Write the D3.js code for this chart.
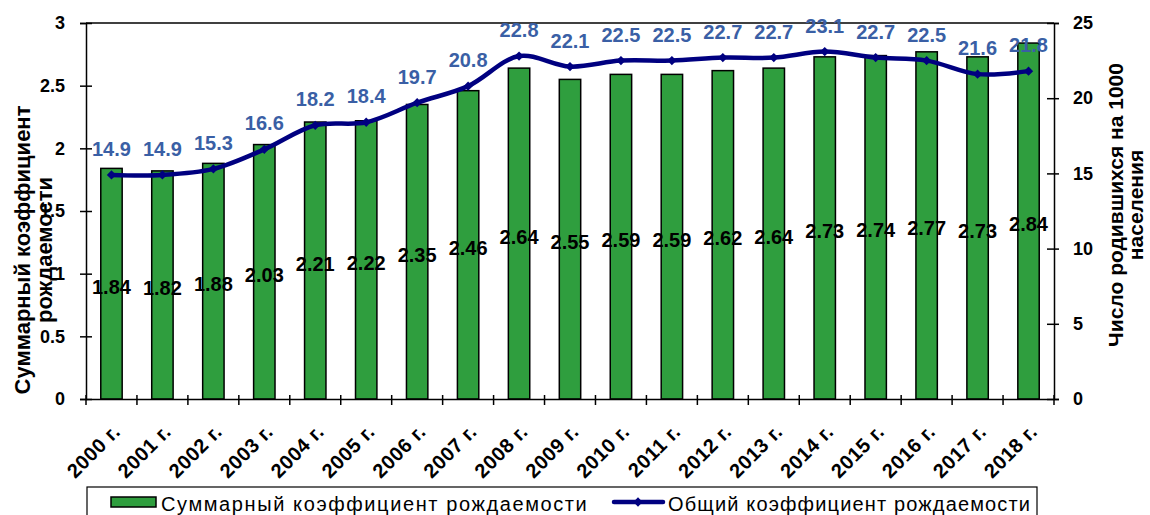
<!DOCTYPE html>
<html>
<head>
<meta charset="utf-8">
<script src="https://cdn.jsdelivr.net/npm/d3@7"></script>
<style>
  body { margin: 0; background: #fff; }
  svg { font-family: "Liberation Sans", Arial, sans-serif; }
</style>
</head>
<body>
<div id="vis"></div>
<script>
const years = ["2000 г.", "2001 г.", "2002 г.", "2003 г.", "2004 г.", "2005 г.", "2006 г.", "2007 г.", "2008 г.", "2009 г.",
    "2010 г.", "2011 г.", "2012 г.", "2013 г.", "2014 г.", "2015 г.", "2016 г.", "2017 г.", "2018 г."];
// суммарный коэффициент рождаемости (левая ось)
const tfr = [1.84, 1.82, 1.88, 2.03, 2.21, 2.22, 2.35, 2.46, 2.64, 2.55, 2.59, 2.59, 2.62, 2.64, 2.73, 2.74, 2.77, 2.73, 2.84];
// общий коэффициент рождаемости (правая ось)
const cbr = [14.9, 14.9, 15.3, 16.6, 18.2, 18.4, 19.7, 20.8, 22.8, 22.1, 22.5, 22.5, 22.7, 22.7, 23.1, 22.7, 22.5, 21.6, 21.8];
const leftTicks = [0, 0.5, 1, 1.5, 2, 2.5, 3];
const rightTicks = [0, 5, 10, 15, 20, 25];
const legendLabels = ["Суммарный коэффициент рождаемости", "Общий коэффициент рождаемости"];

const W = 1150, H = 515;
const plot = { left: 86, right: 1054, top: 23, bottom: 399 };

const svg = d3.select("#vis").append("svg")
    .attr("width", W).attr("height", H);

const x = d3.scaleBand().domain(years).range([plot.left, plot.right]);
const yL = d3.scaleLinear().domain([0, 3]).range([plot.bottom, plot.top]);
const yR = d3.scaleLinear().domain([0, 25]).range([plot.bottom, plot.top]);
const cx = i => x(years[i]) + x.bandwidth() / 2;

// frame top line
svg.append("line")
    .attr("x1", plot.left).attr("x2", plot.right).attr("y1", plot.top).attr("y2", plot.top)
    .attr("stroke", "#000").attr("stroke-width", 1.5);

// bars
const bw = x.bandwidth() * 0.42;
svg.selectAll("rect.bar")
    .data(tfr)
    .enter()
    .append("rect")
    .attr("class", "bar")
    .attr("x", (d, i) => cx(i) - bw / 2)
    .attr("y", d => yL(d))
    .attr("width", bw)
    .attr("height", d => plot.bottom - yL(d))
    .attr("fill", "#2f9e3e")
    .attr("stroke", "#000")
    .attr("stroke-width", 1.5);

// axes
const axL = svg.append("g")
    .attr("transform", "translate(" + plot.left + ",0)")
    .call(d3.axisLeft(yL).tickValues(leftTicks).tickSize(6).tickFormat(d => d));
const axR = svg.append("g")
    .attr("transform", "translate(" + plot.right + ",0)")
    .call(d3.axisRight(yR).tickValues(rightTicks).tickSize(5).tickFormat(d => d));
const axB = svg.append("g")
    .attr("transform", "translate(0," + plot.bottom + ")")
    .call(d3.axisBottom(x).tickSize(0).tickFormat(""));

[axL, axR, axB].forEach(g => {
    g.select(".domain").attr("stroke", "#000").attr("stroke-width", 1.5);
    g.selectAll(".tick line").attr("stroke", "#000").attr("stroke-width", 1.5);
});
axL.selectAll(".tick line").attr("x1", 6);
axR.selectAll(".tick line").attr("x1", -7);
// x ticks at band edges, crossing the axis
axB.selectAll(".tick").remove();
svg.selectAll("line.xt")
    .data(d3.range(years.length + 1))
    .enter()
    .append("line")
    .attr("x1", i => plot.left + i * x.step())
    .attr("x2", i => plot.left + i * x.step())
    .attr("y1", plot.bottom - 4).attr("y2", plot.bottom + 6)
    .attr("stroke", "#000").attr("stroke-width", 1.5);

axL.selectAll(".tick text")
    .attr("x", -21)
    .attr("font-size", 18).attr("font-weight", "bold").attr("fill", "#000")
    .attr("font-family", "Liberation Sans, Arial, sans-serif");
axR.selectAll(".tick text")
    .attr("x", 19)
    .attr("font-size", 18).attr("font-weight", "bold").attr("fill", "#000")
    .attr("font-family", "Liberation Sans, Arial, sans-serif");

// x labels rotated
svg.selectAll("text.xl")
    .data(years)
    .enter()
    .append("text")
    .attr("class", "xl")
    .attr("transform", (d, i) => "translate(" + (cx(i) + 5) + "," + 428 + ") rotate(-45)")
    .attr("text-anchor", "end")
    .attr("dy", "0.35em")
    .attr("font-size", 20).attr("font-weight", "bold").attr("letter-spacing", 0.5)
    .text(d => d);

// bar labels, centred in the bar
svg.selectAll("text.bl")
    .data(tfr)
    .enter()
    .append("text")
    .attr("class", "bl")
    .attr("x", (d, i) => cx(i))
    .attr("y", d => yL(d / 2) + 10)
    .attr("text-anchor", "middle")
    .attr("font-size", 20).attr("font-weight", "bold")
    .attr("fill", "#000")
    .text(d => d.toFixed(2));

// line
const line = d3.line()
    .curve(d3.curveCatmullRom.alpha(0.5))
    .x((d, i) => cx(i))
    .y(d => yR(d));
svg.append("path")
    .datum(cbr)
    .attr("d", line)
    .attr("fill", "none")
    .attr("stroke", "#000080")
    .attr("stroke-width", 4.5);

svg.selectAll("path.mk")
    .data(cbr)
    .enter()
    .append("path")
    .attr("class", "mk")
    .attr("transform", (d, i) => "translate(" + cx(i) + "," + yR(d) + ")")
    .attr("d", d3.symbol(d3.symbolDiamond2, 55))
    .attr("fill", "#000080");

svg.selectAll("text.ll")
    .data(cbr)
    .enter()
    .append("text")
    .attr("class", "ll")
    .attr("x", (d, i) => cx(i))
    .attr("y", d => yR(d) - 19)
    .attr("text-anchor", "middle")
    .attr("font-size", 20).attr("font-weight", "bold")
    .attr("fill", "#3a5fa5")
    .text(d => d.toFixed(1));

// axis titles
svg.append("text")
    .attr("transform", "translate(30,250) rotate(-90)")
    .attr("text-anchor", "middle")
    .attr("font-size", 22).attr("font-weight", "bold")
    .selectAll("tspan")
    .data(["Суммарный коэффициент", "рождаемости"])
    .enter()
    .append("tspan")
    .attr("x", 0)
    .attr("dy", (d, i) => i === 0 ? 0 : 22)
    .text(d => d);

svg.append("text")
    .attr("transform", "translate(1123,205) rotate(-90)")
    .attr("text-anchor", "middle")
    .attr("font-size", 21).attr("font-weight", "bold")
    .selectAll("tspan")
    .data(["Число родившихся на 1000", "населения"])
    .enter()
    .append("tspan")
    .attr("x", 0)
    .attr("dy", (d, i) => i === 0 ? 0 : 20)
    .text(d => d);

// legend
svg.append("rect")
    .attr("x", 87).attr("y", 487)
    .attr("width", 950).attr("height", 40)
    .attr("fill", "none").attr("stroke", "#000").attr("stroke-width", 1.2);
svg.append("rect")
    .attr("x", 111).attr("y", 497).attr("width", 45).attr("height", 10)
    .attr("fill", "#2f9e3e").attr("stroke", "#000").attr("stroke-width", 1.5);
svg.append("text")
    .attr("x", 161).attr("y", 511)
    .attr("font-size", 20).attr("letter-spacing", 1.6)
    .text(legendLabels[0]);
svg.append("line")
    .attr("x1", 614).attr("x2", 663).attr("y1", 502).attr("y2", 502)
    .attr("stroke", "#000080").attr("stroke-width", 4.5).attr("stroke-linecap", "round");
svg.append("path")
    .attr("transform", "translate(638,502)")
    .attr("d", d3.symbol(d3.symbolDiamond2, 55))
    .attr("fill", "#000080");
svg.append("text")
    .attr("x", 668).attr("y", 511)
    .attr("font-size", 20).attr("letter-spacing", 1.15)
    .text(legendLabels[1]);
</script>
</body>
</html>
